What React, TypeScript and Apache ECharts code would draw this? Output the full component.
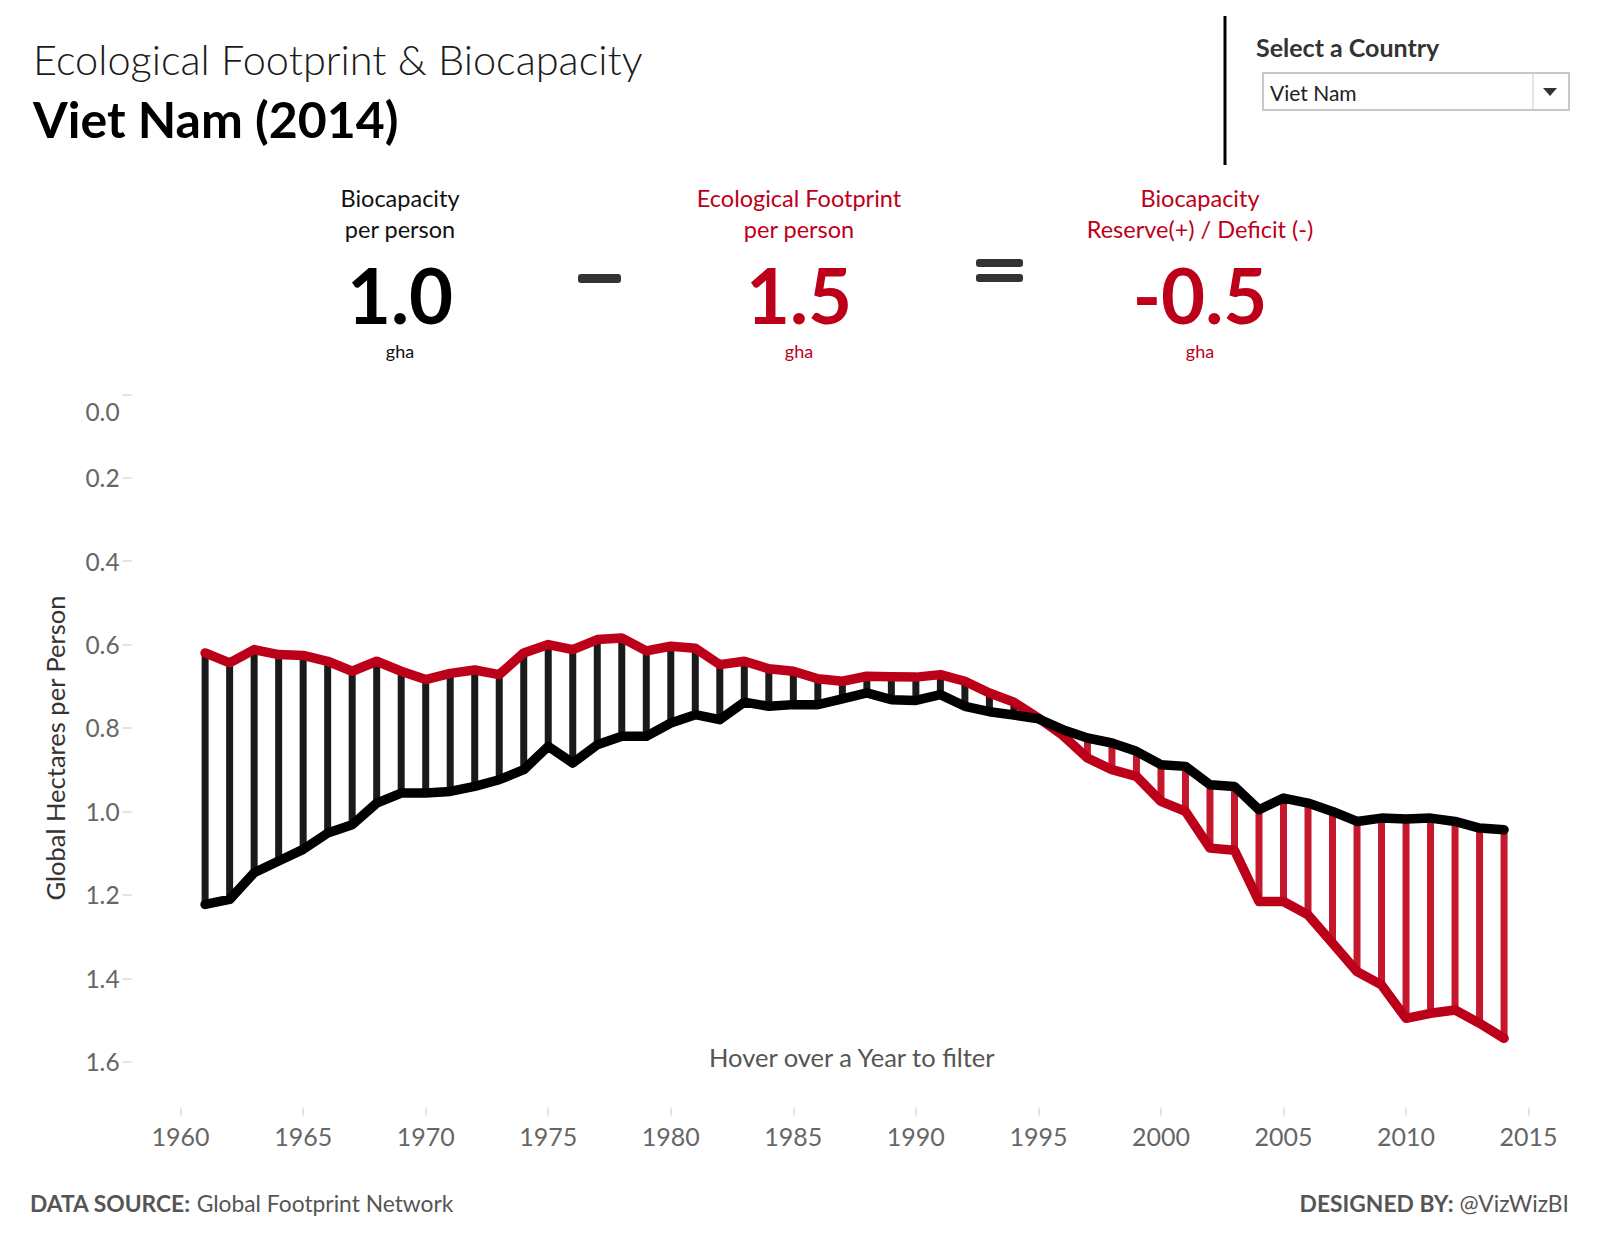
import React, { useEffect, useRef } from 'react';
import * as echarts from 'echarts';

const YEARS = [
  1961, 1962, 1963, 1964, 1965, 1966, 1967, 1968, 1969, 1970,
  1971, 1972, 1973, 1974, 1975, 1976, 1977, 1978, 1979, 1980,
  1981, 1982, 1983, 1984, 1985, 1986, 1987, 1988, 1989, 1990,
  1991, 1992, 1993, 1994, 1995, 1996, 1997, 1998, 1999, 2000,
  2001, 2002, 2003, 2004, 2005, 2006, 2007, 2008, 2009, 2010,
  2011, 2012, 2013, 2014,
];

// Ecological Footprint per person (gha)
const FOOTPRINT = [
  0.620, 0.644, 0.612, 0.624, 0.626, 0.640, 0.664, 0.640, 0.664, 0.684,
  0.669, 0.661, 0.672, 0.620, 0.600, 0.612, 0.588, 0.584, 0.615, 0.604,
  0.609, 0.648, 0.640, 0.658, 0.664, 0.682, 0.688, 0.676, 0.677, 0.678,
  0.672, 0.688, 0.716, 0.738, 0.776, 0.818, 0.872, 0.900, 0.916, 0.976,
  1.000, 1.088, 1.093, 1.216, 1.216, 1.248, 1.316, 1.384, 1.416, 1.496,
  1.484, 1.476, 1.508, 1.544,
];

// Biocapacity per person (gha)
const BIOCAPACITY = [
  1.223, 1.211, 1.147, 1.119, 1.091, 1.052, 1.032, 0.980, 0.956, 0.956,
  0.952, 0.940, 0.924, 0.900, 0.844, 0.884, 0.840, 0.820, 0.820, 0.788,
  0.768, 0.780, 0.738, 0.748, 0.744, 0.744, 0.730, 0.716, 0.732, 0.734,
  0.720, 0.748, 0.761, 0.769, 0.778, 0.804, 0.824, 0.836, 0.856, 0.888,
  0.892, 0.936, 0.940, 0.996, 0.968, 0.980, 1.000, 1.024, 1.016, 1.018,
  1.016, 1.024, 1.040, 1.044,
];

const X_TICKS = [1960, 1965, 1970, 1975, 1980, 1985, 1990, 1995, 2000, 2005, 2010, 2015];
const Y_TICKS = [0, 0.2, 0.4, 0.6, 0.8, 1.0, 1.2, 1.4, 1.6];

const KPI_BIOCAPACITY = '1.0';
const KPI_FOOTPRINT = '1.5';
const KPI_BALANCE = '-0.5';
const COUNTRY = 'Viet Nam';
const YEAR_LABEL = '2014';

const FONT = "Lato, 'Noto Sans', sans-serif";
const RED = '#BD0019';
const RED_BAR = '#C5182C';
const BLACK_BAR = '#1a1a1a';

function txt(x: number, y: number, text: string, o: any = {}) {
  return {
    type: 'text',
    x,
    y,
    silent: true,
    style: {
      text,
      fill: o.fill || '#111',
      fontSize: o.fontSize || 20,
      fontFamily: FONT,
      fontWeight: o.fontWeight || 'normal',
      align: o.align || 'left',
      verticalAlign: 'middle',
      rich: o.rich,
    },
  };
}

export default function App() {
  const ref = useRef<HTMLDivElement>(null);

  useEffect(() => {
    if (!ref.current) return;
    const chart = echarts.init(ref.current, null, { renderer: 'svg' });

    const dropData = YEARS.map((y, i) => [y, FOOTPRINT[i], BIOCAPACITY[i]]);

    const graphic: any[] = [
      txt(33, 59, 'Ecological Footprint & Biocapacity', { fontSize: 41.5, fontWeight: 300, fill: '#1a1a1a' }),
      txt(33, 119, `${COUNTRY} (${YEAR_LABEL})`, { fontSize: 50, fontWeight: 'bold', fill: '#000' }),
      // vertical divider
      { type: 'rect', silent: true, shape: { x: 1223.5, y: 16, width: 3, height: 149 }, style: { fill: '#000' } },
      txt(1256, 47, 'Select a Country', { fontSize: 25, fontWeight: 'bold', fill: '#333' }),
      { type: 'rect', silent: true, shape: { x: 1263, y: 73, width: 306, height: 37 }, style: { fill: '#fff', stroke: '#c8c8c8', lineWidth: 2 } },
      { type: 'line', silent: true, shape: { x1: 1533, y1: 74, x2: 1533, y2: 109 }, style: { stroke: '#dcdcdc', lineWidth: 1.5 } },
      { type: 'polygon', silent: true, shape: { points: [[1543, 88], [1557, 88], [1550, 96]] }, style: { fill: '#333' } },
      txt(1270, 92.5, COUNTRY, { fontSize: 21, fill: '#222' }),

      // KPI 1
      txt(400, 198, 'Biocapacity', { fontSize: 23.5, align: 'center', fill: '#111' }),
      txt(400, 228.5, 'per person', { fontSize: 23.5, align: 'center', fill: '#111' }),
      txt(400, 294, KPI_BIOCAPACITY, { fontSize: 76, fontWeight: 'bold', align: 'center', fill: '#000' }),
      txt(400, 351, 'gha', { fontSize: 18, align: 'center', fill: '#111' }),
      // minus
      { type: 'rect', silent: true, shape: { x: 578, y: 274, width: 43, height: 9, r: 3 }, style: { fill: '#333' } },
      // KPI 2
      txt(799, 198, 'Ecological Footprint', { fontSize: 23.5, align: 'center', fill: RED }),
      txt(799, 228.5, 'per person', { fontSize: 23.5, align: 'center', fill: RED }),
      txt(799, 294, KPI_FOOTPRINT, { fontSize: 76, fontWeight: 'bold', align: 'center', fill: RED }),
      txt(799, 351, 'gha', { fontSize: 18, align: 'center', fill: RED }),
      // equals
      { type: 'rect', silent: true, shape: { x: 976, y: 259, width: 47, height: 8, r: 3 }, style: { fill: '#333' } },
      { type: 'rect', silent: true, shape: { x: 976, y: 274, width: 47, height: 8, r: 3 }, style: { fill: '#333' } },
      // KPI 3
      txt(1200, 198, 'Biocapacity', { fontSize: 23.5, align: 'center', fill: RED }),
      txt(1200, 228.5, 'Reserve(+) / Deficit (-)', { fontSize: 23.5, align: 'center', fill: RED }),
      txt(1200, 294, KPI_BALANCE, { fontSize: 76, fontWeight: 'bold', align: 'center', fill: RED }),
      txt(1200, 351, 'gha', { fontSize: 18, align: 'center', fill: RED }),

      // axis title
      {
        type: 'text',
        silent: true,
        x: 55,
        y: 748,
        rotation: Math.PI / 2,
        style: {
          text: 'Global Hectares per Person',
          fill: '#333',
          fontSize: 25.5,
          fontFamily: FONT,
          align: 'center',
          verticalAlign: 'middle',
        },
      },
      txt(709, 1057, 'Hover over a Year to filter', { fontSize: 25.5, fill: '#555' }),
      txt(30, 1203, '{b|DATA SOURCE:} Global Footprint Network', {
        fontSize: 22.8,
        fill: '#555',
        rich: { b: { fontWeight: 'bold', fontSize: 22.8, fontFamily: FONT, fill: '#555' } },
      }),
      txt(1569, 1203, '{b|DESIGNED BY:} @VizWizBI', {
        fontSize: 22.8,
        fill: '#555',
        align: 'right',
        rich: { b: { fontWeight: 'bold', fontSize: 22.8, fontFamily: FONT, fill: '#555' } },
      }),
    ];

    const option: any = {
      animation: false,
      backgroundColor: '#fff',
      grid: { left: 131.6, right: 22.4, top: 394.3, bottom: 146.6, containLabel: false },
      xAxis: {
        type: 'value',
        position: 'bottom',
        min: 1958,
        max: 2017,
        offset: 4,
        axisLine: { show: false, onZero: false },
        splitLine: { show: false },
        axisTick: { show: true, customValues: X_TICKS, length: 8, lineStyle: { color: '#e3e3e3', width: 2 } },
        axisLabel: {
          customValues: X_TICKS,
          margin: 29,
          verticalAlign: 'middle',
          fontSize: 25,
          color: '#666',
          fontFamily: FONT,
          formatter: (v: number) => String(v),
        },
      },
      yAxis: {
        type: 'value',
        inverse: true,
        min: 0,
        max: 1.7,
        axisLine: { show: false, onZero: false },
        splitLine: { show: false },
        axisTick: { show: true, customValues: Y_TICKS, length: 9, lineStyle: { color: '#e3e3e3', width: 2 } },
        axisLabel: {
          customValues: Y_TICKS,
          margin: 12,
          fontSize: 24.5,
          color: '#666',
          fontFamily: FONT,
          formatter: (v: number) => (v === 0 ? '{z|0.0}' : v.toFixed(1)),
          rich: { z: { fontSize: 24.5, color: '#666', fontFamily: FONT, padding: [34, 0, 0, 0] } },
        },
      },
      series: [
        {
          type: 'custom',
          z: 1,
          silent: true,
          data: dropData,
          encode: { x: 0, y: [1, 2] },
          renderItem: (params: any, api: any) => {
            const x = api.value(0);
            const f = api.value(1);
            const b = api.value(2);
            const p1 = api.coord([x, f]);
            const p2 = api.coord([x, b]);
            return {
              type: 'line',
              shape: { x1: p1[0], y1: p1[1], x2: p2[0], y2: p2[1] },
              style: { stroke: f > b ? RED_BAR : BLACK_BAR, lineWidth: 7 },
            };
          },
        },
        {
          type: 'line',
          z: 2,
          silent: true,
          symbol: 'none',
          showSymbol: false,
          data: YEARS.map((y, i) => [y, FOOTPRINT[i]]),
          lineStyle: { color: RED, width: 9.5, cap: 'round', join: 'round' },
        },
        {
          type: 'line',
          z: 3,
          silent: true,
          symbol: 'none',
          showSymbol: false,
          data: YEARS.map((y, i) => [y, BIOCAPACITY[i]]),
          lineStyle: { color: '#000', width: 9.5, cap: 'round', join: 'round' },
        },
      ],
      graphic,
    };

    chart.setOption(option);
    return () => chart.dispose();
  }, []);

  return (
    <div
      ref={ref}
      style={{ position: 'absolute', left: 0, top: 0, width: 1600, height: 1250, background: '#fff' }}
    />
  );
}
